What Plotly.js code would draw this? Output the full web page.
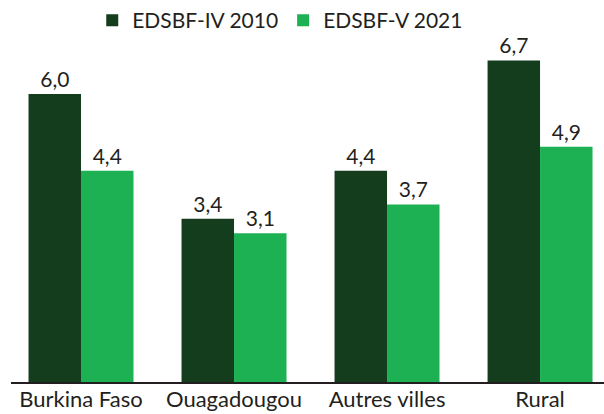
<!DOCTYPE html>
<html><head><meta charset="utf-8">
<script src="https://cdn.plot.ly/plotly-3.0.1.min.js"></script>
<style>html,body{margin:0;padding:0;background:#fff}#c{width:604px;height:414px}</style>
</head><body><div id="c"></div>
<script>
const categories = ["Burkina Faso", "Ouagadougou", "Autres villes", "Rural"];
const series2010 = [6.0, 3.4, 4.4, 6.7];
const series2021 = [4.4, 3.1, 3.7, 4.9];
const seriesNames = ["EDSBF-IV 2010", "EDSBF-V 2021"];

const fam = "Lato, 'Open Sans', sans-serif";
const valFont = {family: fam, size: 21, color: "#231f20"};
const tickFont = {family: fam, size: 22, color: "#231f20"};
const legFont = {family: fam, size: 21, color: "#231f20"};
const traces = [
  {type: "bar", name: seriesNames[0], x: categories, y: series2010,
   marker: {color: "#143d1e"}, texttemplate: "%{y:.1f}", textposition: "outside",
   textfont: valFont, cliponaxis: false, hoverinfo: "skip"},
  {type: "bar", name: seriesNames[1], x: categories, y: series2021,
   marker: {color: "#1db154"}, texttemplate: "%{y:.1f}", textposition: "outside",
   textfont: valFont, cliponaxis: false, hoverinfo: "skip"}
];
const layout = {
  width: 604, height: 414,
  margin: {l: 11, r: 0, t: 0, b: 32},
  paper_bgcolor: "#fff", plot_bgcolor: "#fff",
  separators: ", ",
  font: valFont,
  barmode: "group", bargap: 0.314, bargroupgap: 0,
  showlegend: true,
  legend: {orientation: "h", x: 0.137, xanchor: "left", y: 1.0, yanchor: "top",
           font: legFont, itemwidth: 30, tracegroupgap: 0, bgcolor: "rgba(0,0,0,0)"},
  xaxis: {range: [-0.4575, 3.418], showline: true, linecolor: "#231f20", linewidth: 2,
          ticks: "", tickfont: tickFont, ticklabelstandoff: -3, showgrid: false, zeroline: false, fixedrange: true},
  yaxis: {range: [0, 7.958], visible: false, showgrid: false, zeroline: false, fixedrange: true}
};
Plotly.newPlot("c", traces, layout, {displayModeBar: false, staticPlot: true});
</script></body></html>
